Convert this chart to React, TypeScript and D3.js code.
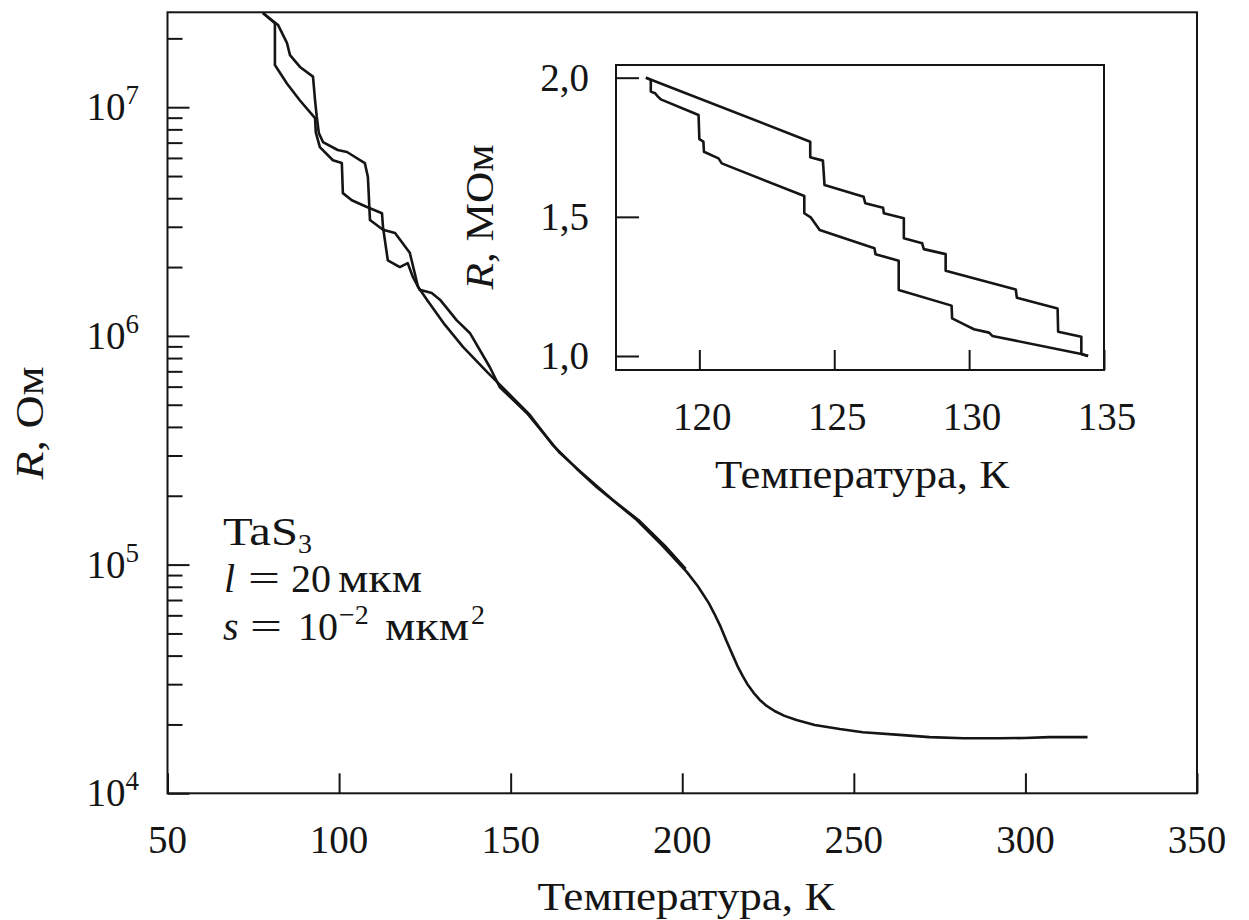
import React, { useRef, useEffect } from "react";
import * as d3 from "d3";

// main plot: two R(T) runs (log scale)
const curveAT = [77.8, 82.2, 84.8, 85.7, 88.6, 92.4, 93.0, 93.5, 94.1, 95.3, 99.6, 102.3, 107.5, 108.4, 109.0, 112.8, 116.3, 120.6, 123.0, 125.6, 130.8, 136.1, 143.1, 149.8, 155.6, 162.3, 169.3, 175.1, 178.9, 186.7, 194.0, 201.3, 204.5, 207.7, 209.4, 211.2, 212.9, 214.7, 216.1, 217.6, 219.1, 220.8, 222.6, 224.6, 226.9, 229.8, 233.3, 238.6, 245.9, 252.6, 263.3, 272.1, 282.0, 292.4, 299.7, 307.0, 318.1];
const curveAR = [2.58e7, 2.29e7, 1.91e7, 1.69e7, 1.50e7, 1.36e7, 1.07e7, 9.06e6, 7.71e6, 7.04e6, 6.50e6, 6.37e6, 5.70e6, 4.95e6, 3.21e6, 2.91e6, 2.82e6, 2.31e6, 1.64e6, 1.44e6, 1.12e6, 8.96e5, 6.96e5, 5.52e5, 4.51e5, 3.33e5, 2.62e5, 2.18e5, 1.96e5, 1.57e5, 1.22e5, 9.29e4, 8.06e4, 6.80e4, 6.08e4, 5.34e4, 4.63e4, 4.02e4, 3.60e4, 3.26e4, 2.98e4, 2.75e4, 2.56e4, 2.41e4, 2.29e4, 2.18e4, 2.09e4, 1.99e4, 1.91e4, 1.85e4, 1.80e4, 1.76e4, 1.74e4, 1.74e4, 1.745e4, 1.76e4, 1.76e4];

const curveBT = [77.8, 81.3, 81.3, 84.8, 88.6, 93.0, 93.2, 94.4, 98.2, 100.8, 101.1, 103.7, 108.1, 112.5, 112.8, 114.2, 117.7, 120.0, 121.5, 123.5, 127.0, 129.4, 134.3, 138.1, 143.9, 146.8, 154.7, 164.3, 170.1, 179.5, 187.6, 194.9, 201.0];
const curveBR = [2.58e7, 2.33e7, 1.53e7, 1.27e7, 1.07e7, 8.96e6, 7.78e6, 6.69e6, 5.86e6, 5.70e6, 4.21e6, 3.92e6, 3.66e6, 3.44e6, 2.99e6, 2.14e6, 2.00e6, 2.08e6, 1.81e6, 1.59e6, 1.54e6, 1.44e6, 1.17e6, 1.03e6, 7.31e5, 5.98e5, 4.60e5, 3.08e5, 2.57e5, 1.93e5, 1.55e5, 1.21e5, 9.57e4];

// inset: R in MOhm, stepwise hysteresis loop
const insetUpperT = [118.02, 124.11, 124.11, 124.58, 124.64, 126.09, 126.15, 126.81, 126.84, 127.58, 127.58, 128.26, 128.32, 129.13, 129.13, 131.73, 131.77, 133.28, 133.30, 134.16, 134.16, 134.41];
const insetUpperR = [2.0, 1.770, 1.714, 1.702, 1.614, 1.572, 1.549, 1.533, 1.513, 1.495, 1.423, 1.405, 1.384, 1.366, 1.306, 1.239, 1.209, 1.171, 1.087, 1.069, 1.007, 1.0];

const insetLowerT = [118.02, 118.20, 118.20, 118.36, 118.44, 118.57, 119.97, 120.00, 120.15, 120.17, 120.71, 120.83, 123.89, 123.89, 124.14, 124.46, 126.49, 126.53, 127.39, 127.39, 129.35, 129.37, 129.87, 130.18, 130.74, 130.86, 134.16, 134.41];
const insetLowerR = [2.0, 1.992, 1.950, 1.944, 1.935, 1.922, 1.866, 1.779, 1.770, 1.734, 1.710, 1.692, 1.575, 1.513, 1.497, 1.453, 1.387, 1.366, 1.342, 1.237, 1.181, 1.135, 1.111, 1.096, 1.084, 1.072, 1.007, 1.0];

const xTicks = [50, 100, 150, 200, 250, 300, 350];
const yMajor = [1e4, 1e5, 1e6, 1e7];
const yMajorExp = ["4", "5", "6", "7"];
const insetXTicks = [120, 125, 130, 135];
const insetYTicks = [1.0, 1.5, 2.0];
const insetYLabels = ["1,0", "1,5", "2,0"];

const FONT = "'Liberation Serif', 'Times New Roman', serif";

function App() {
  const svgRef = useRef(null);

  useEffect(() => {
    const svg = d3.select(svgRef.current);
    svg.selectAll("*").remove();

    const m = { left: 167.5, right: 1197, top: 12.3, bottom: 793.3 };
    const x = d3.scaleLinear().domain([50, 350]).range([m.left, m.right]);
    const y = d3.scaleLog().domain([1e4, 2.6e7]).range([m.bottom, m.top]);

    const ink = "#151515";

    // minor + major ticks on left axis, pointing inward
    const minors = y.ticks().filter(v => !yMajor.includes(v));
    const styleAxis = g => {
      g.select(".domain").remove();
      g.selectAll("line").attr("stroke", ink).attr("stroke-width", 2);
      g.selectAll("text").remove();
    };
    svg.append("g")
      .attr("transform", `translate(${m.left},0)`)
      .call(d3.axisRight(y).tickValues(minors).tickSize(15).tickFormat(() => ""))
      .call(styleAxis);
    svg.append("g")
      .attr("transform", `translate(${m.left},0)`)
      .call(d3.axisRight(y).tickValues(yMajor).tickSize(22).tickFormat(() => ""))
      .call(styleAxis);
    svg.append("g")
      .attr("transform", `translate(0,${m.bottom})`)
      .call(d3.axisTop(x).tickValues(xTicks).tickSize(20).tickFormat(() => ""))
      .call(styleAxis);

    svg.append("rect")
      .attr("x", m.left).attr("y", m.top)
      .attr("width", m.right - m.left).attr("height", m.bottom - m.top)
      .attr("fill", "none").attr("stroke", ink).attr("stroke-width", 2);

    // tick labels
    svg.append("g").selectAll("text")
      .data(xTicks).join("text")
      .attr("x", d => x(d)).attr("y", 853)
      .attr("text-anchor", "middle")
      .attr("font-family", FONT).attr("font-size", 39).attr("fill", ink)
      .text(d => d);

    const yl = svg.append("g").selectAll("text")
      .data(yMajor).join("text")
      .attr("x", 139).attr("y", d => y(d) + 13)
      .attr("text-anchor", "end")
      .attr("font-family", FONT).attr("font-size", 39).attr("fill", ink);
    yl.append("tspan").text("10");
    yl.append("tspan").attr("dy", -16).attr("font-size", 27).text((d, i) => yMajorExp[i]);

    // axis titles
    svg.append("text")
      .attr("x", 686).attr("y", 910)
      .attr("text-anchor", "middle")
      .attr("textLength", 297).attr("lengthAdjust", "spacingAndGlyphs")
      .attr("font-family", FONT).attr("font-size", 41).attr("fill", ink)
      .text("Температура, К");

    const yt = svg.append("text")
      .attr("transform", "translate(43,423) rotate(-90)")
      .attr("text-anchor", "middle")
      .attr("textLength", 113).attr("lengthAdjust", "spacingAndGlyphs")
      .attr("font-family", FONT).attr("font-size", 40).attr("fill", ink);
    yt.append("tspan").attr("font-style", "italic").text("R");
    yt.append("tspan").text(", Ом");

    // sample annotation
    const ann = svg.append("g").attr("font-family", FONT).attr("font-size", 40).attr("fill", ink);
    const t1 = ann.append("text").attr("y", 545);
    t1.append("tspan").attr("x", 223).attr("textLength", 75).attr("lengthAdjust", "spacingAndGlyphs").text("TaS");
    t1.append("tspan").attr("x", 298).attr("dy", 8).attr("font-size", 28).text("3");

    const t2 = ann.append("text").attr("y", 592);
    t2.append("tspan").attr("x", 224).attr("font-style", "italic").text("l");
    t2.append("tspan").attr("x", 248).attr("textLength", 32).attr("lengthAdjust", "spacingAndGlyphs").text("=");
    t2.append("tspan").attr("x", 291).text("20");
    t2.append("tspan").attr("x", 338).attr("textLength", 84).attr("lengthAdjust", "spacingAndGlyphs").text("мкм");

    const t3 = ann.append("text").attr("y", 640);
    t3.append("tspan").attr("x", 223).attr("font-style", "italic").text("s");
    t3.append("tspan").attr("x", 250).attr("textLength", 32).attr("lengthAdjust", "spacingAndGlyphs").text("=");
    t3.append("tspan").attr("x", 298).text("10");
    t3.append("tspan").attr("x", 339).attr("dy", -16).attr("font-size", 28).text("−2");
    t3.append("tspan").attr("x", 385).attr("dy", 16).attr("textLength", 84).attr("lengthAdjust", "spacingAndGlyphs").text("мкм");
    t3.append("tspan").attr("x", 471).attr("dy", -16).attr("font-size", 28).text("2");

    // main curves
    const line = d3.line().x(d => x(d[0])).y(d => y(d[1]));
    const curves = [
      d3.zip(curveAT, curveAR),
      d3.zip(curveBT, curveBR),
    ];
    svg.append("g").selectAll("path")
      .data(curves).join("path")
      .attr("d", line)
      .attr("fill", "none").attr("stroke", ink)
      .attr("stroke-width", 2.6).attr("stroke-linejoin", "round");

    // inset
    const im = { left: 616, right: 1104, top: 65, bottom: 370 };
    const ix = d3.scaleLinear().domain([116.91, 135]).range([im.left, im.right]);
    const iy = d3.scaleLinear().domain([0.9497, 2.0456]).range([im.bottom, im.top]);
    const inset = svg.append("g");

    inset.append("rect")
      .attr("x", im.left).attr("y", im.top)
      .attr("width", im.right - im.left).attr("height", im.bottom - im.top)
      .attr("fill", "#fff").attr("stroke", ink).attr("stroke-width", 2);

    inset.append("g")
      .attr("transform", `translate(${im.left},0)`)
      .call(d3.axisRight(iy).tickValues(insetYTicks).tickSize(23).tickFormat(() => ""))
      .call(styleAxis);
    inset.append("g")
      .attr("transform", `translate(0,${im.bottom})`)
      .call(d3.axisTop(ix).tickValues(insetXTicks).tickSize(20).tickFormat(() => ""))
      .call(styleAxis);

    inset.append("g").selectAll("text")
      .data(insetYTicks).join("text")
      .attr("x", 589).attr("y", d => iy(d) + 13)
      .attr("text-anchor", "end")
      .attr("font-family", FONT).attr("font-size", 39).attr("fill", ink)
      .text((d, i) => insetYLabels[i]);

    inset.append("g").selectAll("text")
      .data(insetXTicks).join("text")
      .attr("x", d => ix(d) + 3).attr("y", 430)
      .attr("text-anchor", "middle")
      .attr("font-family", FONT).attr("font-size", 39).attr("fill", ink)
      .text(d => d);

    inset.append("text")
      .attr("x", 862).attr("y", 488)
      .attr("text-anchor", "middle")
      .attr("textLength", 294).attr("lengthAdjust", "spacingAndGlyphs")
      .attr("font-family", FONT).attr("font-size", 41).attr("fill", ink)
      .text("Температура, К");

    const iyt = inset.append("text")
      .attr("transform", "translate(493,217) rotate(-90)")
      .attr("text-anchor", "middle")
      .attr("textLength", 145).attr("lengthAdjust", "spacingAndGlyphs")
      .attr("font-family", FONT).attr("font-size", 40).attr("fill", ink);
    iyt.append("tspan").attr("font-style", "italic").text("R");
    iyt.append("tspan").text(", МОм");

    const iline = d3.line().x(d => ix(d[0])).y(d => iy(d[1]));
    inset.append("g").selectAll("path")
      .data([d3.zip(insetUpperT, insetUpperR), d3.zip(insetLowerT, insetLowerR)])
      .join("path")
      .attr("d", iline)
      .attr("fill", "none").attr("stroke", ink)
      .attr("stroke-width", 2.6).attr("stroke-linejoin", "round");
  }, []);

  return (
    <svg
      ref={svgRef}
      width={1249}
      height={920}
      style={{ position: "absolute", left: 0, top: 0, background: "#fff" }}
    />
  );
}

export default App;
